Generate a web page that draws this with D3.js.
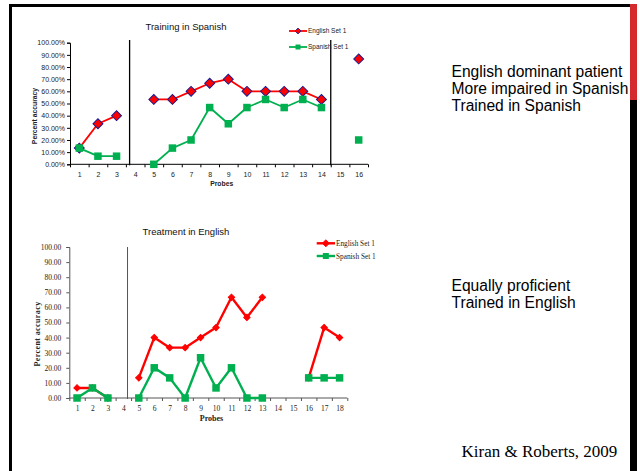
<!DOCTYPE html>
<html>
<head>
<meta charset="utf-8">
<script src="https://cdn.jsdelivr.net/npm/d3@7"></script>
<style>
  body { margin: 0; background: #fff; }
  svg { display: block; }
</style>
</head>
<body>
<svg id="slide" width="640" height="471"></svg>
<script>
// ---- Data: percent accuracy per probe (null = probe not administered) ----
const probesA   = [1, 2, 3, 4, 5, 6, 7, 8, 9, 10, 11, 12, 13, 14, 15, 16];
const englishA  = [13.33, 33.33, 40, null, 53.33, 53.33, 60, 66.67, 70, 60, 60, 60, 60, 53.33, null, 86.67];
const spanishA  = [13.33, 6.67, 6.67, null, 0, 13.33, 20, 46.67, 33.33, 46.67, 53.33, 46.67, 53.33, 46.67, null, 20];
const phaseA    = [3.7, 14.5];

const probesB   = [1, 2, 3, 4, 5, 6, 7, 8, 9, 10, 11, 12, 13, 14, 15, 16, 17, 18];
const englishB  = [6.67, 6.67, 0, null, 13.33, 40, 33.33, 33.33, 40, 46.67, 66.67, 53.33, 66.67, null, null, 13.33, 46.67, 40];
const spanishB  = [0, 6.67, 0, null, 0, 20, 13.33, 0, 26.67, 6.67, 20, 0, 0, null, null, 13.33, 13.33, 13.33];
const phaseB    = [4.27];

const yTicks    = [0, 10, 20, 30, 40, 50, 60, 70, 80, 90, 100];
const seriesNames = ["English Set 1", "Spanish Set 1"];

const RED = "#ff0000", GREEN = "#00b050", NAVY = "#1a1a8c";
const SANS = "'Liberation Sans', Arial, sans-serif";
const SERIF = "'Liberation Serif', 'Times New Roman', serif";

const svg = d3.select("#slide");

// ---- Slide frame ----
svg.append("rect").attr("x", 9).attr("y", 4).attr("width", 628).attr("height", 3).attr("fill", "#000");
svg.append("rect").attr("x", 9).attr("y", 4).attr("width", 3).attr("height", 467).attr("fill", "#000");
svg.append("rect").attr("x", 630).attr("y", 4).attr("width", 7).attr("height", 96).attr("fill", "#d42a2e");
svg.append("rect").attr("x", 630).attr("y", 100).attr("width", 7).attr("height", 371).attr("fill", "#000");

// ---- Chart builder ----
function drawChart(cfg) {
  const g = svg.append("g");
  const n = cfg.probes.length;
  const x = d3.scaleLinear().domain([0.5, n + 0.5]).range([cfg.left, cfg.right]);
  const y = d3.scaleLinear().domain([0, 100]).range([cfg.bottom, cfg.top]);

  // title
  g.append("text").attr("x", cfg.titleX).attr("y", cfg.titleY)
    .attr("text-anchor", "middle").attr("font-family", SANS).attr("font-size", 9.5)
    .attr("fill", "#111").text(cfg.title);

  // y axis
  const yAxis = g.append("g").attr("transform", `translate(${cfg.left},0)`)
    .call(d3.axisLeft(y).tickValues(yTicks).tickSize(3).tickPadding(cfg.yPad)
      .tickFormat(cfg.yFormat));
  yAxis.selectAll("path, line").attr("stroke", cfg.axisColor);
  yAxis.selectAll("text").attr("font-family", cfg.font).attr("font-size", cfg.tickSize).attr("fill", "#222");

  // x axis: boundary ticks + centered labels
  const bounds = [];
  for (let i = 0; i <= n; i++) bounds.push(i + 0.5);
  const xAxis = g.append("g").attr("transform", `translate(0,${cfg.bottom})`)
    .call(d3.axisBottom(x).tickValues(bounds).tickSize(3).tickFormat(""));
  xAxis.select(".domain").attr("d", `M${cfg.left},0H${cfg.right}`);
  xAxis.selectAll("path, line").attr("stroke", cfg.axisColor);
  const xLab = g.append("g").attr("transform", `translate(0,${cfg.bottom})`)
    .call(d3.axisBottom(x).tickValues(cfg.probes).tickSize(0).tickFormat(d3.format("d")));
  xLab.select(".domain").remove();
  xLab.selectAll("text").attr("dy", 0).attr("y", 12.5)
    .attr("font-family", cfg.font).attr("font-size", cfg.tickSize).attr("fill", "#222");

  // axis titles
  g.append("text").attr("x", cfg.xTitle[0]).attr("y", cfg.xTitle[1])
    .attr("text-anchor", "middle").attr("font-family", cfg.font).attr("font-weight", "bold")
    .attr("font-size", cfg.titleSize).attr("fill", "#222").text("Probes");
  g.append("text").attr("transform", `translate(${cfg.yTitle[0]},${cfg.yTitle[1]}) rotate(-90)`)
    .attr("text-anchor", "middle").attr("font-family", cfg.font).attr("font-weight", "bold")
    .attr("font-size", cfg.titleSize).attr("letter-spacing", cfg.yTitleSpacing)
    .attr("fill", "#222").text("Percent accuracy");

  // phase change lines
  g.selectAll(".phase").data(cfg.phases).join("line")
    .attr("x1", d => x(d)).attr("x2", d => x(d))
    .attr("y1", cfg.phaseTop).attr("y2", cfg.bottom + 1)
    .attr("stroke", cfg.phaseColor).attr("stroke-width", cfg.phaseWidth);

  const line = d3.line().defined(d => d.v != null).x(d => x(d.p)).y(d => y(d.v));
  const rows = vals => cfg.probes.map((p, i) => ({ p, v: vals[i] }));

  const eng = rows(cfg.english), spa = rows(cfg.spanish);

  // English series (drawn first, Spanish overlays it)
  g.append("path").datum(eng).attr("d", line).attr("fill", "none")
    .attr("stroke", RED).attr("stroke-width", cfg.lineW).attr("stroke-linejoin", "round");
  g.selectAll(".eng").data(eng.filter(d => d.v != null)).join("path")
    .attr("transform", d => `translate(${x(d.p)},${y(d.v)}) rotate(45)`)
    .attr("d", d3.symbol(d3.symbolSquare, cfg.diamond * cfg.diamond))
    .attr("fill", RED).attr("stroke", cfg.diamondStroke).attr("stroke-width", 1);

  g.append("path").datum(spa).attr("d", line).attr("fill", "none")
    .attr("stroke", GREEN).attr("stroke-width", cfg.lineW).attr("stroke-linejoin", "round");
  g.selectAll(".spa").data(spa.filter(d => d.v != null)).join("path")
    .attr("transform", d => `translate(${x(d.p)},${y(d.v)})`)
    .attr("d", d3.symbol(d3.symbolSquare, cfg.square * cfg.square))
    .attr("fill", GREEN);

  // legend
  const lg = g.append("g");
  seriesNames.forEach((name, i) => {
    const ly = cfg.legend.y + i * cfg.legend.dy;
    const col = i === 0 ? RED : GREEN;
    lg.append("line").attr("x1", cfg.legend.x).attr("x2", cfg.legend.x + cfg.legend.w)
      .attr("y1", ly).attr("y2", ly).attr("stroke", col).attr("stroke-width", cfg.lineW);
    const mx = cfg.legend.x + cfg.legend.w / 2;
    if (i === 0) {
      lg.append("path").attr("transform", `translate(${mx},${ly}) rotate(45)`)
        .attr("d", d3.symbol(d3.symbolSquare, cfg.legend.mark * cfg.legend.mark * 0.7))
        .attr("fill", RED).attr("stroke", cfg.diamondStroke).attr("stroke-width", 0.8);
    } else {
      lg.append("path").attr("transform", `translate(${mx},${ly})`)
        .attr("d", d3.symbol(d3.symbolSquare, cfg.legend.mark * cfg.legend.mark))
        .attr("fill", GREEN);
    }
    lg.append("text").attr("x", cfg.legend.x + cfg.legend.w + 1).attr("y", ly)
      .attr("dy", "0.35em").attr("font-family", cfg.font).attr("font-size", cfg.legend.size)
      .attr("fill", "#222").text(name);
  });
}

drawChart({
  title: "Training in Spanish", titleX: 186, titleY: 30,
  probes: probesA, english: englishA, spanish: spanishA, phases: phaseA,
  left: 70, right: 368, top: 42.7, bottom: 164.3,
  font: SANS, tickSize: 7, titleSize: 6.8, yPad: 2, yTitleSpacing: 0,
  yFormat: d => d3.format(".2f")(d) + "%",
  axisColor: "#000", phaseColor: "#000", phaseWidth: 1.3, phaseTop: 40,
  xTitle: [221.7, 185.5], yTitle: [37, 116],
  lineW: 1.8, diamond: 7, diamondStroke: NAVY, square: 7.5,
  legend: { x: 289, y: 31, dy: 16, w: 18, mark: 5, size: 6.5 }
});

drawChart({
  title: "Treatment in English", titleX: 186, titleY: 235,
  probes: probesB, english: englishB, spanish: spanishB, phases: phaseB,
  left: 69.3, right: 347.3, top: 247, bottom: 398,
  font: SERIF, tickSize: 7.5, titleSize: 8, yPad: 5, yTitleSpacing: 0.4,
  yFormat: d3.format(".2f"),
  axisColor: "#555", phaseColor: "#555", phaseWidth: 1, phaseTop: 247,
  xTitle: [211.5, 421], yTitle: [40, 334],
  lineW: 2.4, diamond: 4.5, diamondStroke: RED, square: 7.5,
  legend: { x: 316.7, y: 243.3, dy: 12.7, w: 18.3, mark: 6, size: 7.3 }
});

// ---- Side notes ----
const notes = svg.append("g").attr("font-family", SANS).attr("font-size", 15.6).attr("fill", "#000");
[["English dominant patient", 77], ["More impaired in Spanish", 94], ["Trained in Spanish", 111],
 ["Equally proficient", 290.5], ["Trained in English", 308]].forEach(([t, yy]) => {
  notes.append("text").attr("x", 451.5).attr("y", yy).text(t);
});
svg.append("text").attr("x", 461.5).attr("y", 457).attr("font-family", SERIF)
  .attr("font-size", 17).attr("fill", "#000").text("Kiran & Roberts, 2009");
</script>
</body>
</html>
